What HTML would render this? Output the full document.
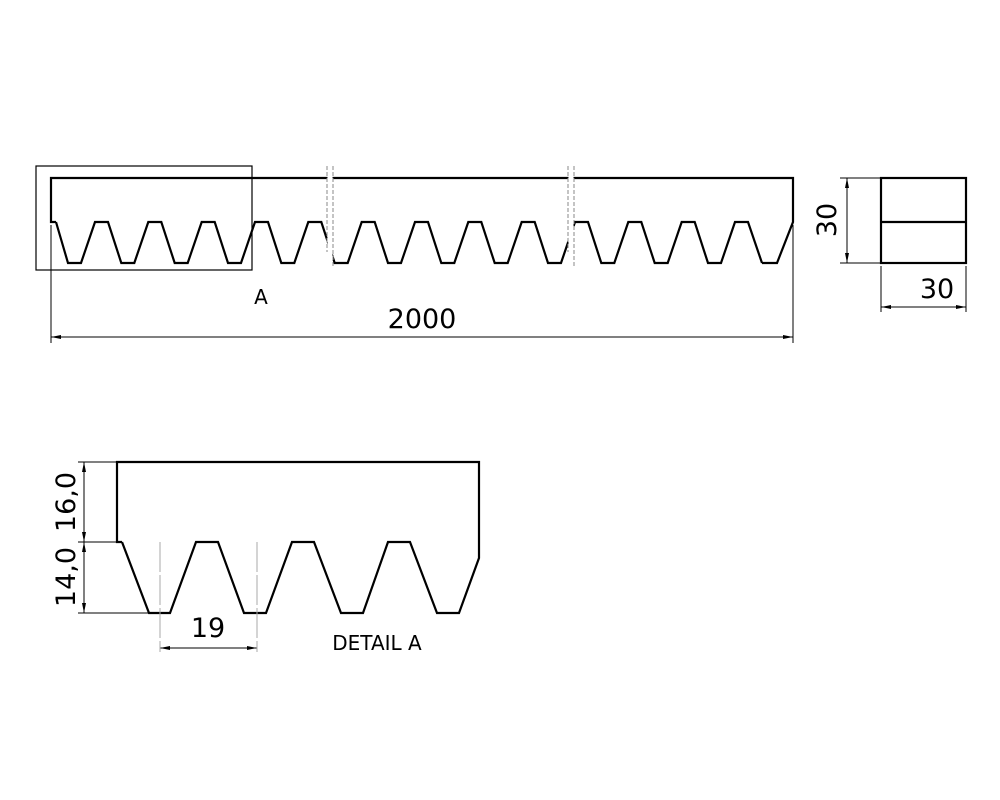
<!DOCTYPE html>
<html><head><style>body{margin:0;background:#fff}svg{display:block}</style></head><body>
<svg width="1000" height="800" viewBox="0 0 1000 800" xmlns="http://www.w3.org/2000/svg">
<defs>
<marker id="ar" viewBox="0 0 10 4" refX="10" refY="2" markerWidth="10" markerHeight="4" orient="auto-start-reverse" markerUnits="userSpaceOnUse"><path d="M0,0L10,2L0,4z" fill="#000"/></marker>
</defs>
<g fill="none" stroke="#000" stroke-width="2.2" stroke-linejoin="miter">
<path d="M56,222 L51,222 L51,178 L793,178 L793,222 L777,263 L762,263"/>
</g>
<path fill="none" stroke="#000" stroke-width="2.2" d="M56,222
L68,263 L81,263 L95,222 L108,222
L121.3,263 L134.3,263 L148.3,222 L161.3,222
L174.7,263 L187.7,263 L201.7,222 L214.7,222
L228,263 L241,263 L255,222 L268,222
L281.3,263 L294.3,263 L308.3,222 L321.3,222
L334.7,263 L347.7,263 L361.7,222 L374.7,222
L388,263 L401,263 L415,222 L428,222
L441.3,263 L454.3,263 L468.3,222 L481.3,222
L494.7,263 L507.7,263 L521.7,222 L534.7,222
L548,263 L561,263 L575,222 L588,222
L601.3,263 L614.3,263 L628.3,222 L641.3,222
L654.7,263 L667.7,263 L681.7,222 L694.7,222
L708,263 L721,263 L735,222 L748,222
L762,263"/>
<rect x="327.5" y="170" width="5" height="100" fill="#fff"/>
<rect x="568.5" y="170" width="5" height="100" fill="#fff"/>
<g stroke="#888" stroke-width="1" stroke-dasharray="4,2">
<line x1="327" y1="166" x2="327" y2="252"/><line x1="333" y1="166" x2="333" y2="266"/>
<line x1="568" y1="166" x2="568" y2="252"/><line x1="574" y1="166" x2="574" y2="266"/>
</g>
<rect x="36" y="166" width="216" height="104" fill="none" stroke="#000" stroke-width="1.2"/>
<g stroke="#000" stroke-width="1" fill="none">
<line x1="51" y1="225" x2="51" y2="343"/><line x1="793" y1="225" x2="793" y2="343"/>
<line x1="51" y1="337" x2="793" y2="337" marker-start="url(#ar)" marker-end="url(#ar)"/>
<line x1="840" y1="178" x2="881" y2="178"/><line x1="840" y1="263" x2="881" y2="263"/>
<line x1="847" y1="178" x2="847" y2="263" marker-start="url(#ar)" marker-end="url(#ar)"/>
<line x1="881" y1="266" x2="881" y2="312"/><line x1="966" y1="266" x2="966" y2="312"/>
<line x1="881" y1="307" x2="966" y2="307" marker-start="url(#ar)" marker-end="url(#ar)"/>
</g>
<g fill="none" stroke="#000" stroke-width="2.2">
<rect x="881" y="178" width="85" height="85"/><line x1="881" y1="222" x2="966" y2="222"/>
</g>
<path fill="none" stroke="#000" stroke-width="2.2" d="M122,542 L117,542 L117,462 L479,462 L479,558 L459,613 L437,613 L410,542 L388,542 L363,613 L341,613 L314,542 L292,542 L266,613 L244,613 L218,542 L196,542 L170,613 L149,613 L122,542"/>
<g stroke="#000" stroke-width="1" fill="none">
<line x1="78" y1="462" x2="117" y2="462"/><line x1="78" y1="542" x2="117" y2="542"/><line x1="78" y1="613" x2="149" y2="613"/>
<line x1="84" y1="462" x2="84" y2="542" marker-start="url(#ar)" marker-end="url(#ar)"/>
<line x1="84" y1="542" x2="84" y2="613" marker-start="url(#ar)" marker-end="url(#ar)"/>
<line x1="160" y1="648" x2="257" y2="648" marker-start="url(#ar)" marker-end="url(#ar)"/>
</g>
<g stroke="#aaa" stroke-width="1" stroke-dasharray="30,3">
<line x1="160" y1="542" x2="160" y2="652"/><line x1="257" y1="542" x2="257" y2="652"/>
</g>
<g font-family="DejaVu Sans, sans-serif" fill="#000">
<text x="261" y="304" font-size="20" text-anchor="middle">A</text>
<text x="422" y="328" font-size="27" text-anchor="middle">2000</text>
<text x="937" y="298" font-size="27" text-anchor="middle">30</text>
<text transform="translate(836,220) rotate(-90)" font-size="27" text-anchor="middle">30</text>
<text transform="translate(75,502) rotate(-90)" font-size="27" text-anchor="middle">16,0</text>
<text transform="translate(75,577) rotate(-90)" font-size="27" text-anchor="middle">14,0</text>
<text x="208" y="637" font-size="27" text-anchor="middle">19</text>
<text x="377" y="650" font-size="20" text-anchor="middle">DETAIL A</text>
</g>
</svg>
</body></html>
